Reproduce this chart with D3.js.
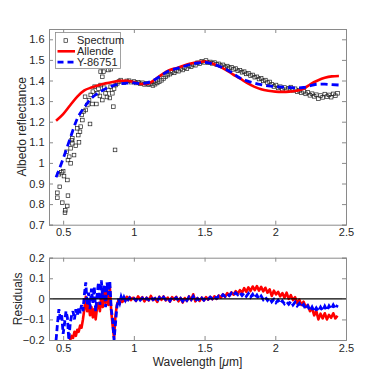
<!DOCTYPE html>
<html>
<head>
<meta charset="utf-8">
<script src="https://cdn.jsdelivr.net/npm/d3@7"></script>
<style>
  body { margin: 0; background: #fff; }
  svg { font-family: "Liberation Sans", Arial, sans-serif; }
</style>
</head>
<body>
<div id="chart"></div>
<script>
// ---- data ----
// scattered part of the measured spectrum (0.45 - 1 um)
const specWaveLow = [0.459,0.459,0.476,0.494,0.534,0.529,0.513,0.515,0.488,0.506,0.53,0.47,0.5,0.534,0.553,0.543,0.577,0.553,0.565,0.589,0.565,0.612,0.607,0.619,0.6,0.624,0.636,0.631,0.645,0.69,0.66,0.671,0.655,0.683,0.695,0.707,0.735,0.71,0.723,0.742,0.75,0.765,0.777,0.765,0.785,0.82,0.836,0.777,0.76,0.8,0.79,0.82,0.848,0.855,0.867,0.836,0.872,0.86,0.883,0.895,0.907,0.93,0.95,0.966,0.98,0.525,0.56,0.81,0.83];
const specReflLow = [0.855,0.831,0.884,0.807,0.841,0.791,0.758,0.77,0.954,0.936,0.917,0.945,0.96,1.014,0.998,1.03,1.038,1.071,1.095,1.083,1.119,1.1,1.135,1.151,1.168,1.176,1.208,1.233,1.25,1.189,1.257,1.281,1.321,1.305,1.33,1.286,1.286,1.346,1.37,1.338,1.36,1.378,1.418,1.443,1.443,1.451,1.455,1.305,1.325,1.338,1.365,1.354,1.338,1.273,1.063,1.37,1.378,1.36,1.386,1.395,1.402,1.39,1.398,1.399,1.392,1.054,1.11,1.32,1.315];
// dense part of the spectrum (1 - 2.44 um)
const specWaveHigh = [1.000,1.015,1.030,1.045,1.060,1.075,1.090,1.105,1.120,1.135,1.150,1.165,1.180,1.195,1.210,1.225,1.240,1.255,1.270,1.285,1.300,1.315,1.330,1.345,1.360,1.375,1.390,1.405,1.420,1.435,1.450,1.465,1.480,1.495,1.510,1.525,1.540,1.555,1.570,1.585,1.600,1.615,1.630,1.645,1.660,1.675,1.690,1.705,1.720,1.735,1.750,1.765,1.780,1.795,1.810,1.825,1.840,1.855,1.870,1.885,1.900,1.915,1.930,1.945,1.960,1.975,1.990,2.005,2.020,2.035,2.050,2.065,2.080,2.095,2.110,2.125,2.140,2.155,2.170,2.185,2.200,2.215,2.230,2.245,2.260,2.275,2.290,2.305,2.320,2.335,2.350,2.365,2.380,2.395,2.410,2.425,2.440];
const specReflHigh = [1.395,1.388,1.392,1.384,1.389,1.381,1.386,1.379,1.383,1.376,1.382,1.388,1.394,1.401,1.41,1.418,1.426,1.431,1.44,1.437,1.448,1.445,1.456,1.451,1.462,1.458,1.47,1.467,1.478,1.474,1.486,1.482,1.493,1.488,1.497,1.486,1.49,1.483,1.487,1.478,1.481,1.472,1.476,1.466,1.47,1.461,1.464,1.454,1.458,1.447,1.45,1.44,1.443,1.432,1.435,1.424,1.427,1.416,1.418,1.407,1.41,1.398,1.402,1.39,1.393,1.381,1.371,1.378,1.364,1.37,1.358,1.366,1.355,1.362,1.368,1.352,1.36,1.345,1.352,1.34,1.347,1.335,1.342,1.328,1.336,1.323,1.331,1.312,1.327,1.318,1.334,1.322,1.33,1.319,1.335,1.326,1.338];

// model fits
const modelWave = [0.45,0.5,0.55,0.6,0.65,0.7,0.75,0.8,0.85,0.9,0.95,1.0,1.05,1.1,1.15,1.2,1.25,1.3,1.35,1.4,1.45,1.5,1.55,1.6,1.65,1.7,1.75,1.8,1.85,1.9,1.95,2.0,2.05,2.1,2.15,2.2,2.25,2.3,2.35,2.4,2.45];
const allendeRefl = [1.205,1.237,1.28,1.322,1.352,1.366,1.377,1.386,1.393,1.398,1.399,1.393,1.383,1.385,1.405,1.43,1.45,1.46,1.472,1.482,1.49,1.492,1.484,1.47,1.452,1.43,1.41,1.388,1.37,1.357,1.35,1.346,1.345,1.346,1.35,1.36,1.383,1.4,1.413,1.42,1.422];
const y86751Refl = [0.93,1.02,1.12,1.215,1.27,1.314,1.34,1.36,1.374,1.383,1.387,1.388,1.385,1.39,1.405,1.428,1.448,1.458,1.468,1.478,1.485,1.488,1.482,1.47,1.455,1.435,1.412,1.398,1.388,1.38,1.374,1.37,1.368,1.366,1.364,1.366,1.375,1.382,1.382,1.38,1.378];

// residuals
const resWave = [0.45,0.46,0.47,0.48,0.49,0.50,0.51,0.52,0.53,0.54,0.55,0.56,0.57,0.58,0.59,0.60,0.61,0.62,0.63,0.64,0.65,0.66,0.67,0.68,0.69,0.70,0.71,0.72,0.73,0.74,0.75,0.76,0.77,0.78,0.79,0.80,0.81,0.82,0.83,0.84,0.85,0.86,0.87,0.88,0.89,0.90,0.91,0.92,0.93,0.94,0.95,0.96,0.97,0.98,0.99,
  1.000,1.015,1.030,1.045,1.060,1.075,1.090,1.105,1.120,1.135,1.150,1.165,1.180,1.195,1.210,1.225,1.240,1.255,1.270,1.285,1.300,1.315,1.330,1.345,1.360,1.375,1.390,1.405,1.420,1.435,1.450,1.465,1.480,1.495,1.510,1.525,1.540,1.555,1.570,1.585,1.600,1.615,1.630,1.645,1.660,1.675,1.690,1.705,1.720,1.735,1.750,1.765,1.780,1.795,1.810,1.825,1.840,1.855,1.870,1.885,1.900,1.915,1.930,1.945,1.960,1.975,1.990,2.005,2.020,2.035,2.050,2.065,2.080,2.095,2.110,2.125,2.140,2.155,2.170,2.185,2.200,2.215,2.230,2.245,2.260,2.275,2.290,2.305,2.320,2.335,2.350,2.365,2.380,2.395,2.410,2.425,2.440];
const allendeRes = [-0.3,-0.3,-0.3,-0.3,-0.3,-0.3,-0.3,-0.3,-0.3,-0.24,-0.2,-0.18,-0.19,-0.16,-0.18,-0.15,-0.16,-0.13,-0.14,-0.1,-0.05,0.01,-0.06,-0.03,-0.08,-0.04,-0.09,-0.05,-0.1,-0.04,-0.02,-0.06,0.02,-0.04,0.05,-0.02,0.03,-0.03,0.06,-0.06,-0.13,-0.19,-0.08,-0.03,-0.01,-0.025,0.0,-0.015,0.005,-0.01,0.01,-0.005,0.008,-0.006,0.004,
  0.005,-0.01,0.012,-0.004,0.008,-0.012,0.006,-0.008,0.014,-0.006,0.004,-0.015,0.01,-0.005,0.012,-0.008,0.006,-0.014,0.008,-0.004,0.01,-0.012,0.005,-0.018,0.004,-0.01,0.012,-0.006,0.022,-0.012,0.004,-0.01,0.006,-0.008,0.008,-0.004,0.01,-0.002,0.012,0.0,0.016,0.006,0.022,0.01,0.028,0.014,0.032,0.02,0.038,0.024,0.042,0.03,0.052,0.034,0.056,0.038,0.06,0.042,0.062,0.04,0.058,0.036,0.054,0.03,0.046,0.014,0.04,0.022,0.034,0.012,0.028,0.006,0.03,0.0,0.018,-0.006,0.008,-0.02,-0.004,-0.03,-0.014,-0.04,-0.03,-0.06,-0.045,-0.08,-0.06,-0.1,-0.072,-0.095,-0.07,-0.1,-0.078,-0.092,-0.07,-0.095,-0.082];
const y86751Res = [-0.2,-0.12,-0.05,-0.1,-0.08,-0.17,-0.12,-0.06,-0.09,-0.2,-0.12,-0.08,-0.06,-0.1,-0.05,-0.08,-0.04,-0.07,-0.03,-0.06,0.02,0.08,-0.03,0.03,-0.05,0.05,-0.02,0.06,-0.06,0.02,0.08,-0.03,0.09,0.0,0.07,-0.04,0.08,0.02,0.085,-0.05,-0.1,-0.2,-0.12,-0.04,0.0,-0.02,0.01,-0.01,0.008,-0.008,0.006,-0.004,0.005,-0.003,0.002,
  0.002,-0.008,0.006,-0.006,0.004,-0.01,0.003,-0.005,0.008,-0.004,0.002,-0.012,0.006,-0.006,0.008,-0.004,0.004,-0.01,0.006,-0.002,0.006,-0.008,0.002,-0.012,0.004,-0.008,0.008,-0.004,0.012,-0.01,0.002,-0.008,0.004,-0.006,0.006,-0.002,0.008,0.0,0.01,0.002,0.014,0.008,0.02,0.012,0.024,0.016,0.028,0.018,0.03,0.02,0.03,0.016,0.028,0.012,0.026,0.008,0.022,0.004,0.018,0.0,0.014,-0.004,0.008,-0.008,0.004,-0.014,-0.002,-0.018,-0.006,-0.022,-0.01,-0.024,-0.014,-0.026,-0.012,-0.03,-0.016,-0.034,-0.022,-0.04,-0.028,-0.05,-0.034,-0.058,-0.04,-0.062,-0.044,-0.06,-0.04,-0.058,-0.036,-0.056,-0.034,-0.05,-0.03,-0.048,-0.03];

const xTicks = [0.5, 1, 1.5, 2, 2.5];
const topTicks = [0.7, 0.8, 0.9, 1, 1.1, 1.2, 1.3, 1.4, 1.5, 1.6];
const resTicks = [-0.2, -0.1, 0, 0.1, 0.2];

// ---- layout ----
const W = 382, H = 382;
const left = 49, right = 346;
const top1 = 29, bot1 = 224.7;
const top2 = 257.7, bot2 = 340;
const axisCol = "#8a8a8a", textCol = "#262626";

const svg = d3.select("#chart").append("svg")
    .attr("width", W).attr("height", H);

const x = d3.scaleLinear().domain([0.4, 2.5]).range([left, right]);
const y1 = d3.scaleLinear().domain([0.7, 1.65]).range([bot1, top1]);
const y2 = d3.scaleLinear().domain([-0.2, 0.2]).range([bot2, top2]);

const defs = svg.append("defs");
defs.append("clipPath").attr("id", "clip1").append("rect")
    .attr("x", left).attr("y", top1).attr("width", right - left).attr("height", bot1 - top1);
defs.append("clipPath").attr("id", "clip2").append("rect")
    .attr("x", left).attr("y", top2).attr("width", right - left).attr("height", bot2 - top2);

function drawFrame(yScale, yTicks, yTop, yBot) {
    const g = svg.append("g");
    const fmt = d => d3.format("~g")(d);
    // ticks point inward, on all four sides
    g.append("g").attr("transform", `translate(0,${yBot})`)
        .call(d3.axisBottom(x).tickValues(xTicks).tickSize(-4).tickPadding(4).tickFormat(fmt));
    g.append("g").attr("transform", `translate(0,${yTop})`)
        .call(d3.axisTop(x).tickValues(xTicks).tickSize(-4).tickFormat(""));
    g.append("g").attr("transform", `translate(${left},0)`)
        .call(d3.axisLeft(yScale).tickValues(yTicks).tickSize(-4).tickPadding(4.5).tickFormat(fmt));
    g.append("g").attr("transform", `translate(${right},0)`)
        .call(d3.axisRight(yScale).tickValues(yTicks).tickSize(-4).tickFormat(""));
    g.selectAll(".domain").attr("stroke", axisCol).attr("stroke-width", 1);
    g.selectAll(".tick line").attr("stroke", axisCol);
    g.selectAll(".tick text").attr("fill", textCol).style("font-size", "11px");
    return g;
}

// ---- top panel ----
const p1 = svg.append("g").attr("clip-path", "url(#clip1)");

const specWave = specWaveLow.concat(specWaveHigh);
const specRefl = specReflLow.concat(specReflHigh);
p1.selectAll("rect.spec")
    .data(specWave.map((w, i) => [w, specRefl[i]]))
    .enter().append("rect")
        .attr("class", "spec")
        .attr("x", d => x(d[0]) - 1.8)
        .attr("y", d => y1(d[1]) - 1.8)
        .attr("width", 3.6).attr("height", 3.6)
        .attr("fill", "none")
        .attr("stroke", "#222")
        .attr("stroke-width", 0.7);

const line1 = vals => d3.line()
    .x((d, i) => x(modelWave[i]))
    .y(d => y1(d))
    .curve(d3.curveMonotoneX)(vals);

p1.append("path").attr("d", line1(allendeRefl))
    .attr("fill", "none").attr("stroke", "#ff0000").attr("stroke-width", 2.6);
p1.append("path").attr("d", line1(y86751Refl))
    .attr("fill", "none").attr("stroke", "#0000ff").attr("stroke-width", 2.8)
    .attr("stroke-dasharray", "7,4");

drawFrame(y1, topTicks, top1, bot1);

// legend
const lg = svg.append("g");
lg.append("rect").attr("x", 55.5).attr("y", 32.5).attr("width", 65).attr("height", 36)
    .attr("fill", "#fff").attr("stroke", axisCol).attr("stroke-width", 0.8);
const legendItems = ["Spectrum", "Allende", "Y-86751"];
legendItems.forEach((name, i) => {
    const yy = 40.5 + i * 10.8;
    if (i === 0) {
        lg.append("rect").attr("x", 64).attr("y", yy - 1.8).attr("width", 3.6).attr("height", 3.6)
            .attr("fill", "none").attr("stroke", "#222").attr("stroke-width", 0.7);
    } else {
        lg.append("line").attr("x1", 57.5).attr("x2", 75).attr("y1", yy).attr("y2", yy)
            .attr("stroke", i === 1 ? "#ff0000" : "#0000ff")
            .attr("stroke-width", i === 1 ? 2.6 : 2.8)
            .attr("stroke-dasharray", i === 1 ? null : "6,4");
    }
    lg.append("text").attr("x", 77).attr("y", yy + 3.8)
        .attr("fill", textCol).style("font-size", "11px").text(name);
});

// ---- residual panel ----
const p2 = svg.append("g").attr("clip-path", "url(#clip2)");
const line2 = vals => d3.line()
    .x((d, i) => x(resWave[i]))
    .y(d => y2(d))(vals);

p2.append("path").attr("d", line2(allendeRes))
    .attr("fill", "none").attr("stroke", "#ff0000").attr("stroke-width", 2.6)
    .attr("stroke-linejoin", "round");
p2.append("path").attr("d", line2(y86751Res))
    .attr("fill", "none").attr("stroke", "#0000ff").attr("stroke-width", 2.8)
    .attr("stroke-dasharray", "6,3");
p2.append("line")
    .attr("x1", x(0.4)).attr("x2", x(2.5)).attr("y1", y2(0)).attr("y2", y2(0))
    .attr("stroke", "#000").attr("stroke-width", 1.3);

drawFrame(y2, resTicks, top2, bot2);

// ---- axis titles ----
svg.append("text")
    .attr("transform", `translate(26,${(top1 + bot1) / 2}) rotate(-90)`)
    .attr("text-anchor", "middle").attr("fill", textCol).style("font-size", "12px")
    .text("Albedo reflectance");
svg.append("text")
    .attr("transform", `translate(22,${(top2 + bot2) / 2}) rotate(-90)`)
    .attr("text-anchor", "middle").attr("fill", textCol).style("font-size", "12px")
    .text("Residuals");
const xl = svg.append("text")
    .attr("x", (left + right) / 2).attr("y", 365.5)
    .attr("text-anchor", "middle").attr("fill", textCol).style("font-size", "12px");
xl.append("tspan").text("Wavelength [");
xl.append("tspan").style("font-style", "italic").text("\u03bc");
xl.append("tspan").text("m]");
</script>
</body>
</html>
